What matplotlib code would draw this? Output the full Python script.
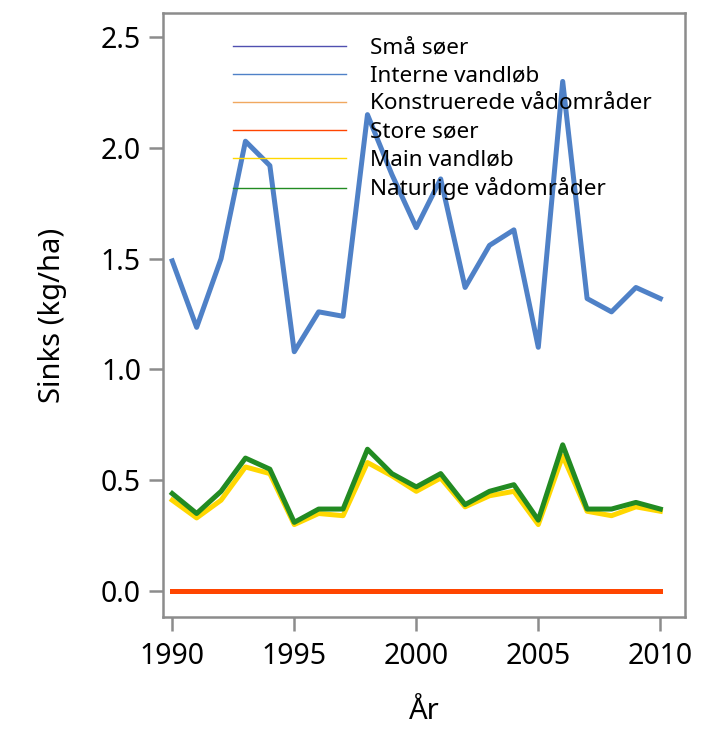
import matplotlib
matplotlib.use("Agg")
import matplotlib.pyplot as plt

plt.rcParams['font.family'] = ['Noto Sans', 'DejaVu Sans']

years = list(range(1990, 2011))

# Sinks per category (kg/ha)
sma_soer = [0.0] * 21
interne_vandlob = [1.49, 1.19, 1.50, 2.03, 1.92, 1.08, 1.26, 1.24, 2.15, 1.88,
                   1.64, 1.86, 1.37, 1.56, 1.63, 1.10, 2.30, 1.32, 1.26, 1.37, 1.32]
konstruerede = [0.0] * 21
store_soer = [0.0] * 21
main_vandlob = [0.41, 0.33, 0.41, 0.56, 0.53, 0.30, 0.35, 0.34, 0.58, 0.52,
                0.45, 0.51, 0.38, 0.43, 0.45, 0.30, 0.61, 0.36, 0.34, 0.38, 0.36]
naturlige = [0.44, 0.35, 0.45, 0.60, 0.55, 0.31, 0.37, 0.37, 0.64, 0.53,
             0.47, 0.53, 0.39, 0.45, 0.48, 0.32, 0.66, 0.37, 0.37, 0.40, 0.37]

series = [
    ("Små søer", sma_soer, "#5050b0"),
    ("Interne vandløb", interne_vandlob, "#4f81c7"),
    ("Konstruerede vådområder", konstruerede, "#f0a860"),
    ("Store søer", store_soer, "#ff4500"),
    ("Main vandløb", main_vandlob, "#ffd700"),
    ("Naturlige vådområder", naturlige, "#228b22"),
]

fig = plt.figure(figsize=(7.19, 7.31), dpi=100)
ax = fig.add_axes([0.227, 0.156, 0.726, 0.826])

for label, vals, color in series:
    ax.plot(years, vals, color=color, linewidth=3.6, label=label)

ax.set_xlim(1989.63, 2011.02)
ax.set_ylim(-0.117, 2.608)
ax.set_xticks([1990, 1995, 2000, 2005, 2010])
ax.set_yticks([0.0, 0.5, 1.0, 1.5, 2.0, 2.5])
ax.set_yticklabels(["0.0", "0.5", "1.0", "1.5", "2.0", "2.5"])

for s in ax.spines.values():
    s.set_color("#8c8c8c")
    s.set_linewidth(1.8)
ax.tick_params(axis='both', colors="#8c8c8c", width=1.8, length=10,
               labelsize=20.5, labelcolor="black", pad=6)
ax.tick_params(axis='x', pad=8)

ax.set_xlabel("År", fontsize=21, labelpad=19)
ax.set_ylabel("Sinks (kg/ha)", fontsize=21, labelpad=24)

leg = ax.legend(loc="upper left", bbox_to_anchor=(0.108, 0.982), frameon=False,
                fontsize=16.2, handlelength=5.0, handletextpad=1.1,
                labelspacing=0.31, borderaxespad=0.2)
for line in leg.get_lines():
    line.set_linewidth(1.0)

fig.savefig("out.png", dpi=100)
